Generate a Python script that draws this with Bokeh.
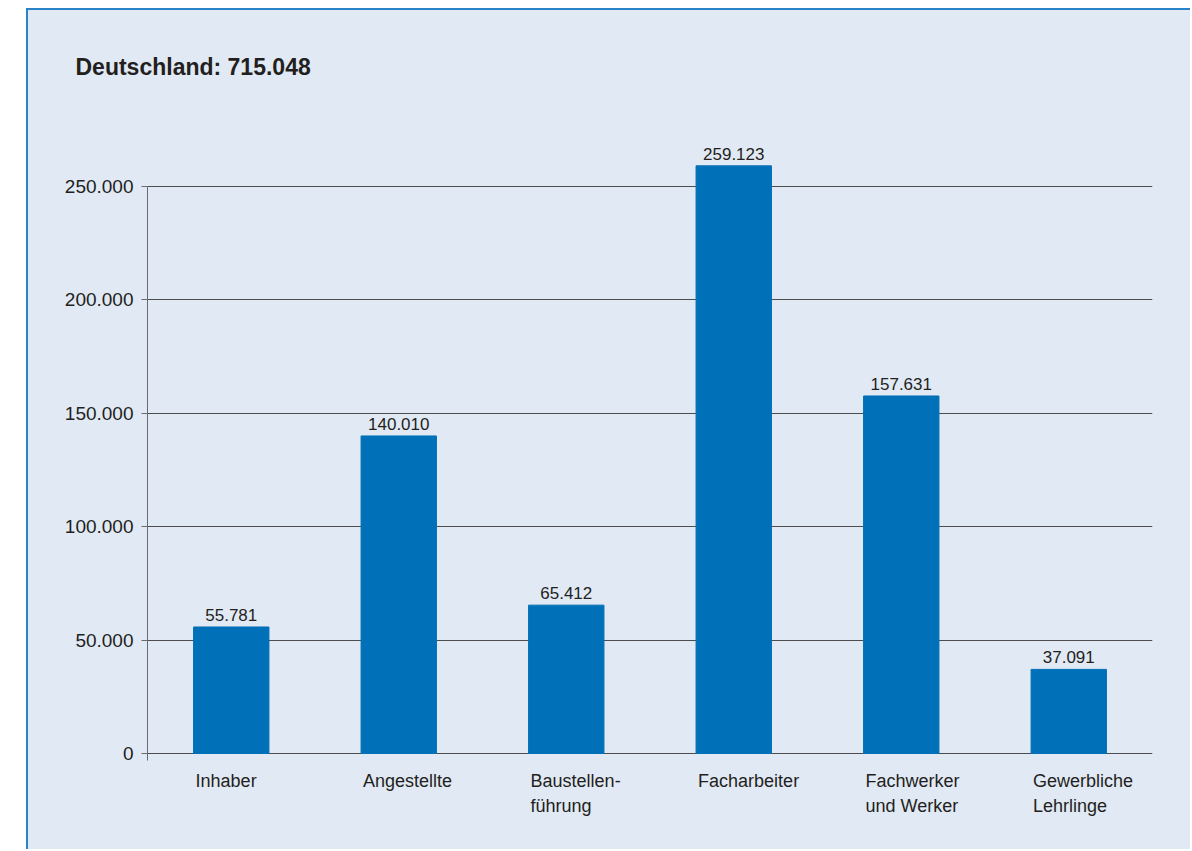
from bokeh.plotting import figure
from bokeh.models import Range1d, FixedTicker, ColumnDataSource
from bokeh.core.properties import value
from bokeh.embed import file_html
from bokeh.resources import INLINE

title_text = "Deutschland: 715.048"
categories = ["Inhaber", "Angestellte", "Baustellen-\nführung", "Facharbeiter",
              "Fachwerker\nund Werker", "Gewerbliche\nLehrlinge"]
values = [55781, 140010, 65412, 259123, 157631, 37091]
y_ticks = [0, 50000, 100000, 150000, 200000, 250000]


def fmt(v):
    return f"{v:,}".replace(",", ".")


BG = "#e1e9f5"
BAR = "#0070b8"
FONT = "Liberation Sans"
TXT = "#231f20"

bar_w = 0.45
xs = [i + 0.5 for i in range(len(values))]
label_x = [x - bar_w / 2 + 0.012 for x in xs]
src = ColumnDataSource(dict(x=xs, top=values, lab=[fmt(v) for v in values],
                            lx=label_x, ly=[0] * len(values), cat=categories))

p = figure(width=1164, height=841, output_backend="svg", toolbar_location=None,
           x_range=Range1d(0, 6), y_range=Range1d(-38360, 292330),
           min_border_left=119, min_border_right=40, min_border_top=80, min_border_bottom=11)
p.margin = (8, 0, 0, 26)
p.styles = {"border-top": "2px solid #2a82c8", "border-left": "2px solid #2a82c8",
            "background-color": BG}

p.background_fill_color = None
p.border_fill_color = None
p.outline_line_color = None

p.vbar(x="x", top="top", width=bar_w, bottom=0, source=src, color=BAR)
p.text(x="x", y="top", text="lab", source=src, text_align="center", text_baseline="bottom",
       y_offset=-6, text_font_size="17px", text_color=TXT, text_font=value(FONT))
p.text(x="lx", y="ly", text="cat", source=src, text_align="left", text_baseline="top",
       y_offset=17, text_font_size="18px", text_color=TXT, text_font=value(FONT),
       text_line_height=1.28)

# y axis
yax = p.yaxis[0]
yax.ticker = FixedTicker(ticks=y_ticks)
yax.major_label_overrides = {t: fmt(t) for t in y_ticks}
yax.bounds = (-3000, 250000)
yax.axis_line_color = "#6b6b6b"
yax.major_tick_line_color = "#6b6b6b"
yax.major_tick_out = 6
yax.major_tick_in = 0
yax.minor_tick_line_color = None
yax.major_label_text_font = FONT
yax.major_label_text_font_size = "19px"
yax.major_label_text_color = TXT
yax.major_label_standoff = 8

p.ygrid.ticker = FixedTicker(ticks=y_ticks)
p.ygrid.grid_line_color = "#4d4d4d"
p.ygrid.grid_line_width = 1
p.xgrid.grid_line_color = None
p.xaxis.visible = False

p.title.text = title_text
p.title.align = "left"
p.title.offset = -72
p.title.standoff = 21
p.title.text_font = FONT
p.title.text_font_size = "23px"
p.title.text_font_style = "bold"
p.title.text_color = TXT

open("out.html", "w").write(file_html(p, INLINE))
